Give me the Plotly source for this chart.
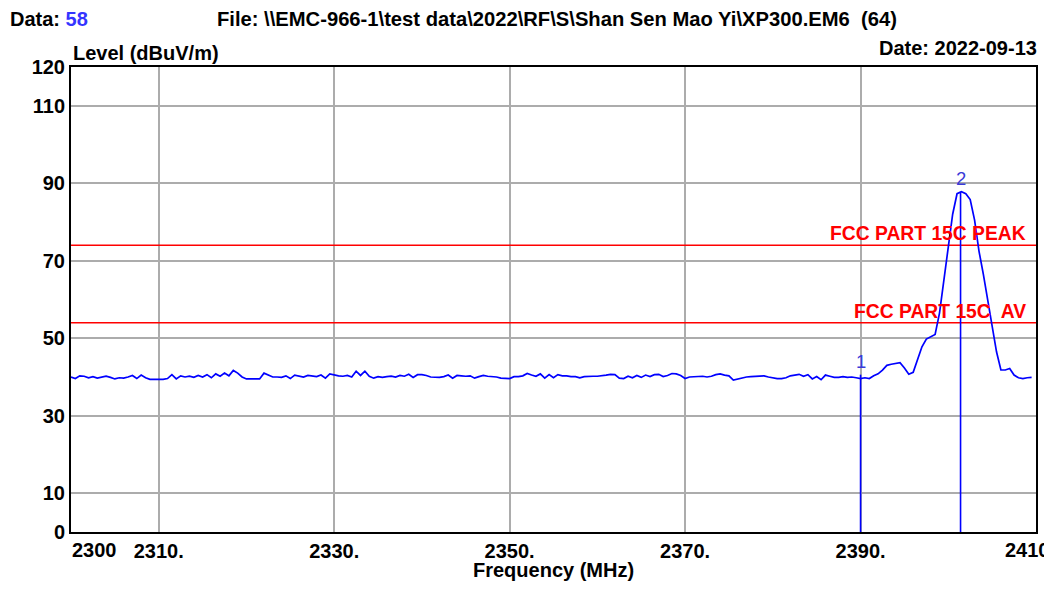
import plotly.graph_objects as go

# ---------------- data ----------------
START_FREQ = 2300.0   # MHz, first sweep point
STEP = 0.5            # MHz between sweep points

levels = [
    40.0, 39.6, 40.3, 40.2, 39.8, 40.1, 39.7, 40.0, 40.2, 39.9, 39.5, 39.8, 39.7, 40.0, 40.4, 39.6, 40.5, 39.8, 39.4, 39.4,
    39.4, 39.4, 39.6, 40.6, 39.5, 40.3, 40.0, 40.2, 39.9, 40.4, 40.0, 40.6, 39.8, 40.8, 40.2, 41.0, 40.3, 41.7, 41.0, 40.0,
    39.5, 39.5, 39.6, 39.5, 41.0, 40.4, 40.0, 40.0, 39.9, 40.3, 39.6, 40.5, 40.2, 40.0, 40.4, 40.2, 40.1, 40.5, 39.7, 40.8,
    40.5, 40.3, 40.2, 40.4, 40.0, 41.5, 40.4, 41.5, 40.2, 39.7, 40.1, 39.9, 40.1, 40.2, 40.0, 40.4, 40.2, 40.7, 39.9, 40.6,
    40.6, 40.4, 40.0, 40.0, 39.9, 40.1, 40.5, 39.7, 40.4, 40.3, 40.2, 40.3, 39.7, 40.1, 40.4, 40.2, 40.1, 40.0, 39.7, 39.6,
    39.6, 40.1, 40.1, 40.3, 40.9, 40.5, 40.2, 40.8, 39.7, 40.6, 39.8, 40.6, 40.3, 40.3, 40.1, 40.1, 39.8, 40.1, 40.2, 40.2,
    40.2, 40.3, 40.5, 40.7, 40.6, 39.7, 39.6, 40.2, 39.8, 40.4, 39.9, 40.5, 40.1, 40.6, 40.7, 40.1, 40.4, 40.9, 40.8, 40.4,
    39.6, 40.0, 40.1, 40.1, 40.2, 40.0, 40.2, 40.6, 40.8, 40.5, 40.3, 39.2, 39.5, 39.9, 40.0, 40.1, 40.2, 40.3, 40.3, 40.0,
    39.8, 39.6, 39.6, 39.8, 40.3, 40.5, 40.7, 40.2, 40.6, 39.5, 40.1, 39.3, 40.5, 40.2, 39.9, 39.9, 40.1, 39.9, 40.0, 39.8,
    39.6, 39.8, 39.6, 40.3, 40.8, 41.8, 43.0, 43.3, 43.5, 43.7, 42.3, 40.7, 41.2, 44.3, 47.8, 49.8, 50.3, 51.0, 56.5, 65.0,
    72.6, 82.0, 87.3, 87.8, 87.3, 85.8, 80.5, 72.5, 66.5, 59.8, 52.8, 46.5, 41.8, 41.8, 42.2, 40.5, 39.8, 39.6, 39.8, 39.9,
]
freqs = [START_FREQ + STEP * i for i in range(len(levels))]

limit_names = ["FCC PART 15C PEAK", "FCC PART 15C\u00a0 AV"]
limit_levels = [74, 54]

marker_labels = ["1", "2"]
marker_freqs = [2390.0, 2401.4]
marker_levels = [40.6, 87.8]

x_tick_vals = [2310, 2330, 2350, 2370, 2390]
x_tick_text = ["2310.", "2330.", "2350.", "2370.", "2390."]
x_edge_labels = ["2300", "2410"]
x_range = [2300, 2410]

y_tick_vals = [0, 10, 30, 50, 70, 90, 110, 120]
y_tick_text = ["0", "10", "30", "50", "70", "90", "110", "120"]
y_range = [0, 120]

header_data_label = "Data: "
header_data_value = "58"
header_file = "File: \\\\EMC-966-1\\test data\\2022\\RF\\S\\Shan Sen Mao Yi\\XP300.EM6\u00a0 (64)"
header_date = "Date: 2022-09-13"
y_title = "Level (dBuV/m)"
x_title = "Frequency (MHz)"

# ---------------- styles ----------------
FONT = "Liberation Sans, Arial, sans-serif"
BLUE = "#0000ff"
RED = "#ff0000"
GRID = "#acacac"
TXT = 20

fig = go.Figure()

# limit lines
for name, lvl in zip(limit_names, limit_levels):
    fig.add_trace(go.Scatter(
        x=x_range, y=[lvl, lvl], mode="lines",
        line=dict(color=RED, width=1.5), hoverinfo="skip", showlegend=False,
    ))
    fig.add_annotation(
        x=x_range[1], y=lvl, xref="x", yref="y", text=name, showarrow=False,
        xanchor="right", yanchor="bottom", xshift=-8, yshift=-1,
        font=dict(family=FONT, size=19.3, color=RED, weight="bold"),
    )

# measurement trace
fig.add_trace(go.Scatter(
    x=freqs, y=levels, mode="lines",
    line=dict(color=BLUE, width=1.7), showlegend=False,
))

# marker lines
mx, my = [], []
for f, l in zip(marker_freqs, marker_levels):
    mx += [f, f, None]
    my += [y_range[0], l, None]
fig.add_trace(go.Scatter(
    x=mx, y=my, mode="lines", line=dict(color=BLUE, width=1.6),
    hoverinfo="skip", showlegend=False,
))
for lab, f, l in zip(marker_labels, marker_freqs, marker_levels):
    fig.add_annotation(
        x=f, y=l, xref="x", yref="y", text=lab, showarrow=False,
        xanchor="center", yanchor="bottom", yshift=1,
        font=dict(family=FONT, size=18.5, color="#3a3ad8"),
    )

# x edge tick labels
fig.add_annotation(
    x=x_range[0], y=0, xref="x", yref="paper", text=x_edge_labels[0], showarrow=False,
    xanchor="left", yanchor="top", xshift=-1, yshift=-5,
    font=dict(family=FONT, size=TXT, color="black", weight="bold"),
)
fig.add_annotation(
    x=x_range[1], y=0, xref="x", yref="paper", text=x_edge_labels[1], showarrow=False,
    xanchor="left", yanchor="top", xshift=-33, yshift=-5,
    font=dict(family=FONT, size=TXT, color="black", weight="bold"),
)

# header texts
hdr_font = dict(family=FONT, size=TXT, color="black", weight="bold")
fig.add_annotation(
    x=-0.0655, y=1.104, xref="paper", yref="paper", showarrow=False,
    xanchor="left", yanchor="middle",
    text=header_data_label + "<span style='color:#3434ff'>" + header_data_value + "</span>",
    font=hdr_font,
)
fig.add_annotation(
    x=0.1497, y=1.104, xref="paper", yref="paper", showarrow=False,
    xanchor="left", yanchor="middle", text=header_file,
    font=dict(family=FONT, size=20.2, color="black", weight="bold"),
)
fig.add_annotation(
    x=1.0, y=1.041, xref="paper", yref="paper", showarrow=False,
    xanchor="right", yanchor="middle", xshift=3, text=header_date, font=hdr_font,
)
fig.add_annotation(
    x=0.0, y=1.031, xref="paper", yref="paper", showarrow=False,
    xanchor="left", yanchor="middle", text=y_title, font=hdr_font,
)
fig.add_annotation(
    x=0.5, y=-0.082, xref="paper", yref="paper", showarrow=False,
    xanchor="center", yanchor="middle", text=x_title, font=hdr_font,
)

fig.update_xaxes(
    range=x_range, tickmode="array", tickvals=x_tick_vals, ticktext=x_tick_text,
    showgrid=True, gridcolor=GRID, gridwidth=2, zeroline=False,
    showline=True, linecolor="black", linewidth=2, mirror=True,
    ticks="", tickfont=dict(family=FONT, size=TXT, color="black", weight="bold"),
)
fig.update_yaxes(
    range=y_range, tickmode="array", tickvals=y_tick_vals, ticktext=y_tick_text,
    showgrid=True, gridcolor=GRID, gridwidth=2, zeroline=False,
    showline=True, linecolor="black", linewidth=2, mirror=True,
    ticks="", ticklabelstandoff=0,
    tickfont=dict(family=FONT, size=TXT, color="black", weight="bold"),
)
fig.update_layout(
    width=1044, height=590, autosize=False,
    margin=dict(l=71, r=6, t=67, b=58, pad=0),
    paper_bgcolor="white", plot_bgcolor="white",
    showlegend=False,
)

fig.write_html("out.html", config={"displayModeBar": False},
               post_script="document.body.style.margin='0';")
